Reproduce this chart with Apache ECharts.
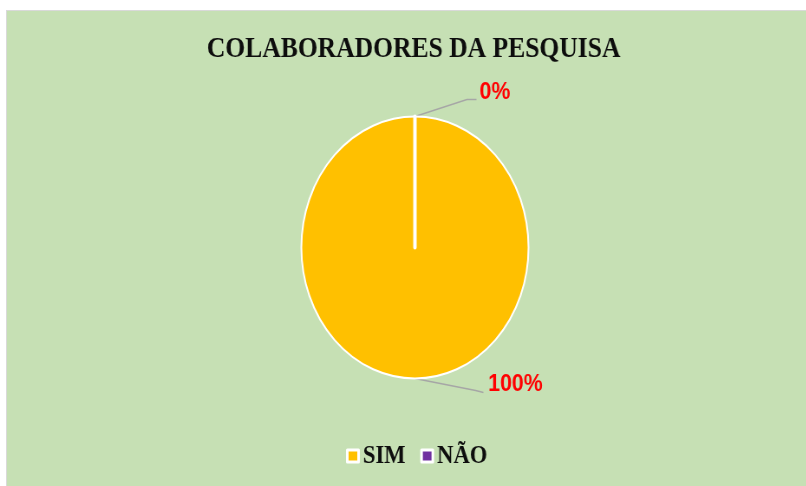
<!DOCTYPE html>
<html>
<head>
<meta charset="utf-8">
<script src="https://cdn.jsdelivr.net/npm/echarts@6/dist/echarts.min.js"></script>
<style>
  html, body { margin: 0; padding: 0; background: #ffffff; width: 806px; height: 486px; overflow: hidden; }
  #frame { position: absolute; left: 6px; top: 10px; width: 800px; height: 476px; background: #C6E0B4; border-top: 1px solid #d9d9d9; border-left: 1px solid #d9d9d9; overflow: hidden; }
  #chart { position: absolute; left: 0; top: 0; width: 923px; height: 476px; transform: scaleX(0.867); transform-origin: 0 0; }
</style>
</head>
<body>
<div id="frame"><div id="chart"></div></div>
<script>
const titleText = 'COLABORADORES DA PESQUISA';
const categories = ['SIM', 'NÃO'];
const values = [100, 0];
const colors = ['#FFC000', '#7030A0'];

const chart = echarts.init(document.getElementById('chart'), null, { renderer: 'canvas' });

const data = categories.map((name, i) => ({
  name: name,
  value: values[i],
  itemStyle: { color: colors[i], borderColor: '#ffffff', borderWidth: i === 0 ? 2 : 4 }
}));

chart.setOption({
  backgroundColor: 'transparent',
  animation: false,
  title: {
    text: titleText,
    left: 464,
    top: 18,
    textAlign: 'center',
    textStyle: { fontFamily: 'Liberation Serif', fontWeight: 'bold', fontSize: 29.5, color: '#0d0d0d' }
  },
  legend: {
    data: categories,
    left: 386,
    top: 427,
    icon: 'rect',
    itemWidth: 13,
    itemHeight: 12,
    itemGap: 17,
    itemStyle: { borderColor: '#ffffff', borderWidth: 3 },
    textStyle: { fontFamily: 'Liberation Serif', fontWeight: 'bold', fontSize: 26, color: '#0d0d0d' }
  },
  series: [{
    type: 'pie',
    center: [470.5, 236.5],
    radius: ['0%', 131],
    startAngle: 90,
    clockwise: true,
    stillShowZeroSum: true,
    minShowLabelAngle: 0,
    avoidLabelOverlap: false,
    data: data,
    label: {
      show: true,
      formatter: '{d}%',
      fontFamily: 'Liberation Sans',
      fontWeight: 'bold',
      fontSize: 24.5,
      color: '#FF0000'
    },
    labelLine: { show: true, length: 20, length2: 10, lineStyle: { color: '#A6A6A6', width: 1.3 } },
    labelLayout: function (params) {
      const pts = params.labelLinePoints;
      if (!pts) return {};
      const p0 = pts[0];
      const up = p0[1] < 236.5;
      let p1, p2, lx, ly;
      if (up) {
        p1 = [p0[0] + 60, p0[1] - 17];
        p2 = [p1[0] + 11, p1[1]];
        lx = p2[0] + 3.5; ly = p2[1] + 5;
      } else {
        p1 = [p0[0] + 70, p0[1] + 12];
        p2 = [p0[0] + 79, p0[1] + 14];
        lx = p2[0] + 5.5; ly = p2[1] + 4;
      }
      return { x: lx, y: ly, align: 'left', verticalAlign: 'bottom', labelLinePoints: [p0, p1, p2] };
    }
  }]
});
</script>
</body>
</html>
